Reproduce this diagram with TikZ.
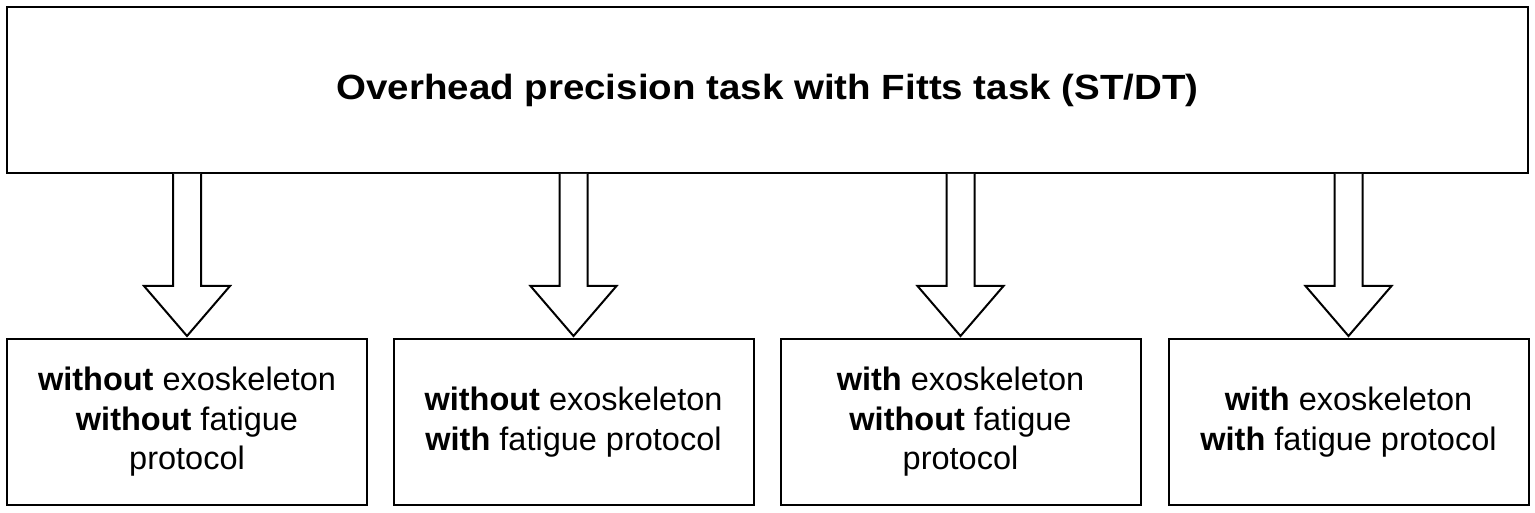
\documentclass[tikz,border=0pt]{standalone}
\usepackage{fontspec}
\setmainfont{Liberation Sans}
\usetikzlibrary{calc}
\tikzset{
  boxstyle/.style={draw=black, line width=2pt, fill=white, align=center, inner sep=0pt},
  topbox/.style={boxstyle, minimum width=1521pt, minimum height=166pt},
  casebox/.style={boxstyle, minimum width=360pt, minimum height=166pt,
    font=\fontsize{32.5}{39.5}\selectfont},
  hollowarrow/.style={draw=black, line width=2pt, fill=white, line join=miter}
}
\begin{document}
\begin{tikzpicture}[x=1pt,y=-1pt]
\useasboundingbox (0,0) rectangle (1535,513);
\node[topbox] (top) at (767.5,90)
  {\scalebox{1.1}[1]{\fontsize{35}{42}\selectfont\bfseries Overhead precision task with Fitts task (ST/DT)}};
\node[casebox] (b1) at (187,422) {\textbf{without} exoskeleton\\\textbf{without} fatigue\\protocol};
\node[casebox] (b2) at (573.5,422) {\textbf{without} exoskeleton\\\textbf{with} fatigue protocol};
\node[casebox] (b3) at (960.5,422) {\textbf{with} exoskeleton\\\textbf{without} fatigue\\protocol};
\node[casebox] (b4) at (1348.5,422) {\textbf{with} exoskeleton\\\textbf{with} fatigue protocol};
\foreach \i in {1,...,4}{
  \coordinate (s\i) at (top.south -| b\i.north);
  \coordinate (t\i) at ($(b\i.north)+(0,-2)$);
  \draw[hollowarrow] ($(s\i)+(-14,0)$) -- ($(s\i)+(-14,112)$) -- ($(s\i)+(-43,112)$)
     -- (t\i) -- ($(s\i)+(43,112)$) -- ($(s\i)+(14,112)$) -- ($(s\i)+(14,0)$);
}
\end{tikzpicture}
\end{document}
